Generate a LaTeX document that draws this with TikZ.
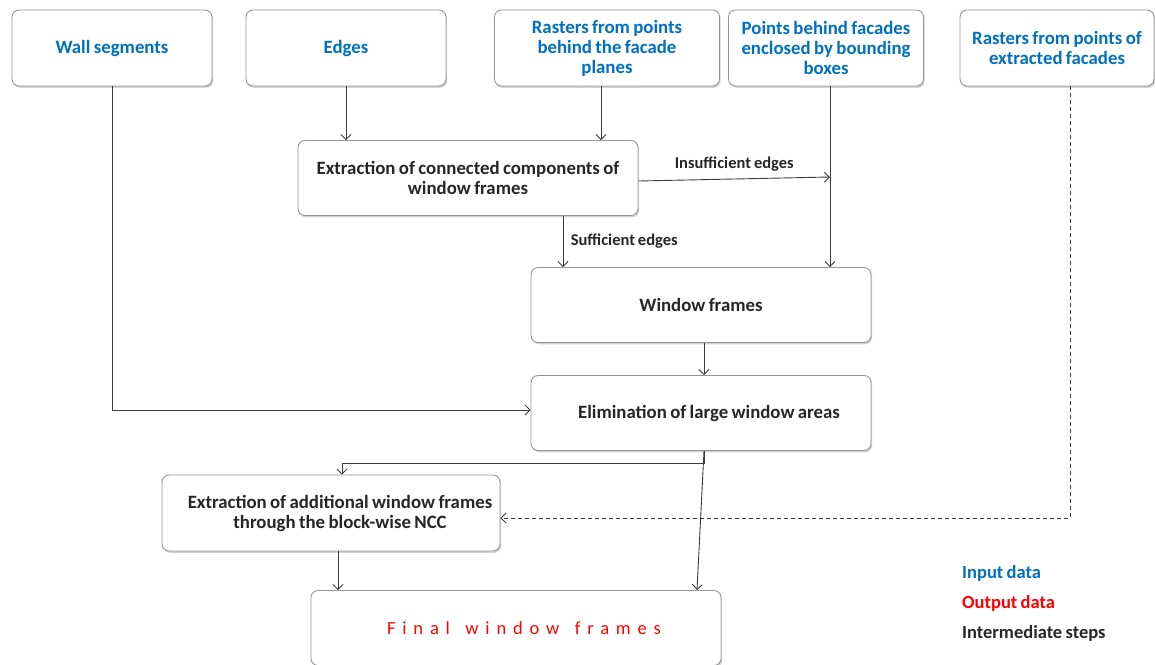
\documentclass[tikz,border=0pt]{standalone}
\usepackage{fontspec}
\setmainfont{Carlito}[WordSpace=0.8]
\newfontfamily\finalfont{Carlito}[LetterSpace=37,WordSpace=1.4]
\usetikzlibrary{arrows.meta,shadows,calc}
\definecolor{inblue}{RGB}{0,112,192}
\definecolor{outred}{RGB}{255,0,0}
\definecolor{linegray}{RGB}{60,60,60}
\definecolor{boxgray}{RGB}{150,150,150}
\tikzset{
  box/.style={draw=boxgray, line width=0.9pt, rounded corners=7pt, fill=white,
    drop shadow={shadow xshift=1.2pt, shadow yshift=-1.8pt, fill=black!30, opacity=0.6},
    align=center, font=\fontsize{18.8}{20}\selectfont\bfseries, inner sep=2pt},
  inbox/.style={box, text=inblue},
  midbox/.style={box, text=black!85},
  conn/.style={draw=linegray, line width=0.9pt, -{Straight Barb[length=5pt,width=10pt]}},
  dconn/.style={conn, dashed, dash pattern=on 4pt off 3pt},
  lbl/.style={font=\fontsize{16.5}{18}\selectfont\bfseries, text=black!85},
  leg/.style={font=\fontsize{18.5}{20}\selectfont\bfseries, anchor=west, inner sep=0pt}
}
\begin{document}
\begin{tikzpicture}[x=1pt,y=-1pt]
\useasboundingbox (0,0) rectangle (1155,664);
% input boxes
\node[inbox, minimum width=200pt, minimum height=76pt] (wall) at (112,48) {Wall segments};
\node[inbox, minimum width=200pt, minimum height=76pt] (edges) at (346,48) {Edges};
\node[inbox, minimum width=225pt, minimum height=76pt] (rast) at (607,48) {Rasters from points\\behind the facade\\planes};
\node[inbox, minimum width=195pt, minimum height=76pt] (pts) at (826,48) {Points behind facades\\enclosed by bounding\\boxes};
\node[inbox, minimum width=194pt, minimum height=76pt] (ext) at (1057,48) {Rasters from points of\\extracted facades};
% intermediate
\node[midbox, minimum width=340pt, minimum height=75pt] (extr) at (468,178) {Extraction of connected components of\\window frames};
\node[midbox, minimum width=340pt, minimum height=75pt] (wf) at (701,305) {Window frames};
\node[midbox, minimum width=340pt, minimum height=75pt] (elim) at (701,413) {\hspace*{16pt}Elimination of large window areas};
\node[midbox, minimum width=338pt, minimum height=76pt] (addl) at (331,513) {\hspace*{18pt}Extraction of additional window frames\\\hspace*{18pt}through the block-wise NCC};
\node[box, minimum width=410pt, minimum height=75pt, text=outred, font=\finalfont\fontsize{18.5}{20}\selectfont] (final) at (516,628) {\hspace*{16pt}Final window frames};
% connectors
\draw[conn] (edges.south) -- (edges.south |- extr.north);
\draw[conn] ([xshift=-6pt]rast.south) -- ([xshift=-6pt]rast.south |- extr.north);
\draw[conn] ([xshift=4pt]pts.south) -- ([xshift=4pt]pts.south |- wf.north);
\draw[conn] ([yshift=-3pt]extr.east) -- ([xshift=4pt,yshift=1pt]pts.south |- extr.east)
  node[lbl, midway, above=4pt] {Insufficient edges};
\draw[conn] ([xshift=95pt]extr.south) -- ([xshift=95pt]extr.south |- wf.north)
  node[lbl, midway, right=4pt] {Sufficient edges};
\draw[conn] ([xshift=3pt]wf.south) -- ([xshift=3pt]wf.south |- elim.north);
\draw[conn] (wall.south) |- ([yshift=3pt]elim.west);
\draw[conn] ([xshift=3pt]elim.south) -- ++(0,12) -| ([xshift=11pt]addl.north);
\draw[conn] ([xshift=3pt]elim.south) -- ([xshift=181pt]final.north);
\draw[conn] ([xshift=7pt]addl.south) -- ([xshift=7pt]addl.south |- final.north);
\draw[dconn] ([xshift=13pt]ext.south) |- ([yshift=-5pt]addl.east);
% legend
\node[leg, text=inblue] (l1) at (962,573) {Input data};
\node[leg, text=outred] (l2) at (962,603) {Output data};
\node[leg, text=black!85] (l3) at (962,633) {Intermediate steps};
\end{tikzpicture}
\end{document}
